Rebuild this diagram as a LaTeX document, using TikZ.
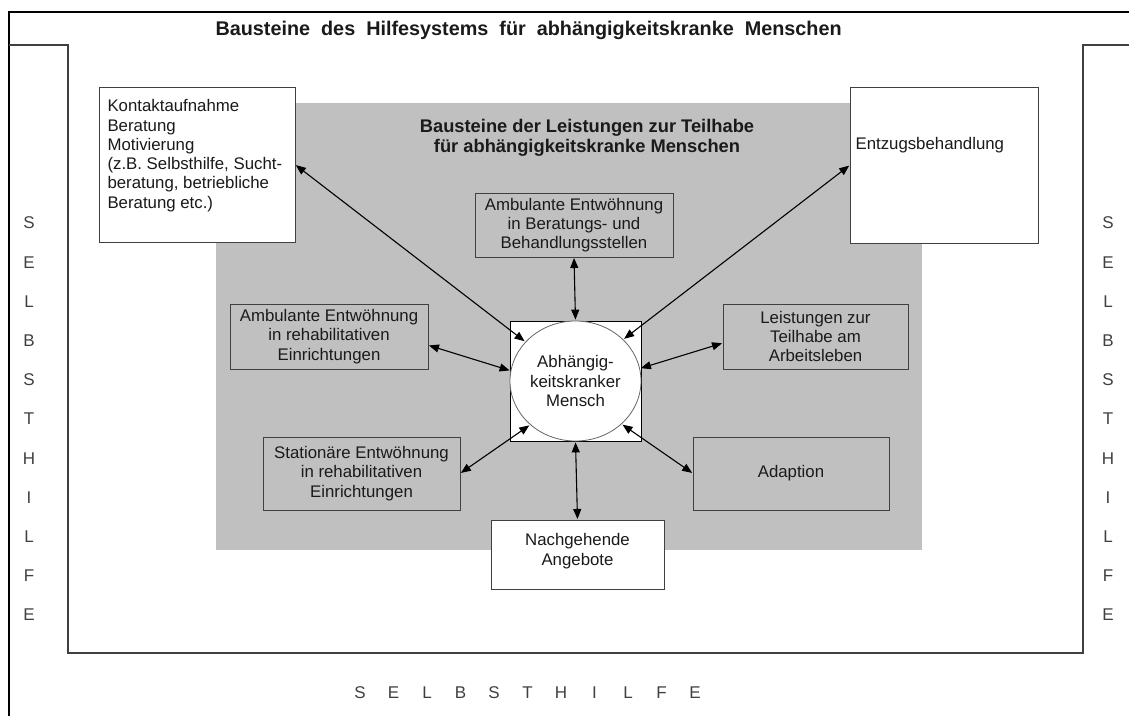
\documentclass[tikz,border=0pt]{standalone}
\usepackage{fontspec}
\setmainfont{Liberation Sans}
\usetikzlibrary{arrows.meta,shapes.geometric}
\definecolor{flaeche}{HTML}{C0C0C0}
\definecolor{rand}{HTML}{404040}
\definecolor{schrift}{HTML}{1A1A1A}

\tikzset{
  box/.style={draw=rand, line width=1pt, anchor=north west, inner sep=0pt, outer sep=0pt, align=center, text=schrift, font=\fontsize{16.8}{19.3}\selectfont},
  weiss/.style={box, fill=white},
  link/.style={{Triangle[length=10pt,width=8pt]}-{Triangle[length=10pt,width=8pt]}, line width=1.1pt, shorten <=1pt, shorten >=1pt},
  buchstabe/.style={text=rand, font=\fontsize{17}{19}\selectfont},
  titel/.style={text=schrift, align=center, font=\fontsize{18.3}{20}\selectfont\bfseries}
}

\begin{document}
\begin{tikzpicture}[x=1pt,y=-1pt]
\useasboundingbox (0,0) rectangle (1129,716);
% Rahmen
\draw[line width=2pt] (9,716) -- (9,12) -- (1129,12);
\draw[line width=1.3pt, rand] (9,45) -- (68,45) -- (68,653) -- (1083,653) -- (1083,45) -- (1129,45);
\fill[flaeche] (216,103) rectangle (922,550);

\node[titel, anchor=west, font=\fontsize{19.8}{22}\selectfont\bfseries] (haupttitel) at (212,30) {Bausteine\ \ des\ \ Hilfesystems\ \ für\ \ abhängigkeitskranke\ \ Menschen};
\node[titel] (teiltitel) at (587,138) {Bausteine der Leistungen zur Teilhabe\\für abhängigkeitskranke Menschen};

\node[weiss, minimum width=196pt, minimum height=155pt, label={[anchor=north west, align=left, text=schrift, font=\fontsize{16.8}{19.3}\selectfont, xshift=5pt, yshift=-9pt]north west:Kontaktaufnahme\\Beratung\\Motivierung\\(z.B. Selbsthilfe, Sucht-\\beratung, betriebliche\\Beratung etc.)}] (kontakt) at (99,87) {};
\node[weiss, minimum width=188pt, minimum height=156pt, label={[anchor=north west, text=schrift, font=\fontsize{16.8}{19.3}\selectfont, xshift=2pt, yshift=-47pt]north west:Entzugsbehandlung}] (entzug) at (850,87) {};

\node[box, minimum width=198pt, minimum height=64pt] (beratung) at (475,193) {Ambulante Entwöhnung\\in Beratungs- und\\Behandlungsstellen};
\node[box, minimum width=198pt, minimum height=65pt] (reha) at (230,304) {Ambulante Entwöhnung\\in rehabilitativen\\Einrichtungen};
\node[box, minimum width=185pt, minimum height=65pt] (arbeit) at (723,304) {Leistungen zur\\Teilhabe am\\Arbeitsleben};
\node[box, minimum width=197pt, minimum height=73pt] (stationaer) at (263,437) {Stationäre Entwöhnung\\in rehabilitativen\\Einrichtungen};
\node[box, minimum width=196pt, minimum height=73pt] (adaption) at (693,437) {Adaption};
\node[weiss, minimum width=173pt, minimum height=69pt, text depth=10pt] (nachsorge) at (491,520) {Nachgehende\\Angebote};

% Mitte
\node[weiss, draw=black, minimum width=131pt, minimum height=120pt] (quadrat) at (510,321) {};
\node[ellipse, draw=rand!80, line width=0.8pt, fill=white, inner sep=0pt, minimum width=131pt, minimum height=120pt, align=center, text=schrift, font=\fontsize{16.8}{19.3}\selectfont] (mensch) at (575.5,381) {Abhängig-\\keitskranker\\Mensch};

\draw[link] (kontakt.east) -- (mensch.142);
\draw[link] (entzug.west) -- (mensch.41);
\draw[link] (beratung.south) -- (mensch.north);
\draw[link] (reha.-5) -- (mensch.171);
\draw[link] (arbeit.184) -- (mensch.11);
\draw[link] (stationaer.east) -- (mensch.224);
\draw[link] (adaption.west) -- (mensch.317);
\draw[link] (nachsorge.north) -- (mensch.south);

% Selbsthilfe
\foreach \b [count=\i from 0] in {S,E,L,B,S,T,H,I,L,F,E} {
  \node[buchstabe] (links\i) at (29,223+39.2*\i) {\b};
  \node[buchstabe] (rechts\i) at (1108,223+39.2*\i) {\b};
  \node[buchstabe] (unten\i) at (360+33.5*\i,693) {\b};
}
\end{tikzpicture}
\end{document}
